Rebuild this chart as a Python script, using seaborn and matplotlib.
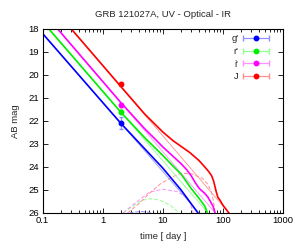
import numpy as np
import pandas as pd
import matplotlib
matplotlib.use("Agg")
import matplotlib.pyplot as plt
import seaborn as sns
from matplotlib import font_manager
from matplotlib.ticker import LogLocator, FixedLocator, FuncFormatter, NullFormatter
from matplotlib.legend_handler import HandlerErrorbar
from matplotlib.container import ErrorbarContainer

# ---------------- data ----------------
bands = ["g'", "r'", "i'", "J"]

# combined model (afterglow + SN), solid lines
t_g_tot = [0.1, 2, 4, 6, 10, 20, 38.5]
m_g_tot = [18.2, 22.1, 22.94, 23.43, 24.05, 24.99, 26.0]
t_r_tot = [0.127, 2, 5, 10, 15, 20, 30, 40, 50, 55.5]
m_r_tot = [18.0, 21.62, 22.73, 23.5, 23.98, 24.3, 24.95, 25.36, 25.7, 26.0]
t_i_tot = [0.178, 2, 5, 8, 10, 15, 20, 25, 30, 35, 41, 50, 56, 62, 69, 74]
m_i_tot = [18.0, 21.2, 22.34, 22.87, 23.13, 23.55, 23.85, 24.12, 24.4, 24.7,
           24.95, 25.15, 25.3, 25.5, 25.72, 26.0]
t_J_tot = [0.30, 2, 5, 10, 15, 20, 28, 40, 50, 58, 65, 70, 74, 78, 83, 90, 100, 126]
m_J_tot = [18.0, 20.5, 21.7, 22.48, 22.87, 23.1, 23.37, 23.72, 24.0, 24.2, 24.38,
           24.6, 24.85, 25.1, 25.33, 25.45, 25.66, 26.0]

# afterglow-only power laws, thin lines
t_g_ag = [0.1, 39.8]
m_g_ag = [18.2, 26.0]
t_r_ag = [0.127, 56.5]
m_r_ag = [18.0, 26.0]
t_i_ag = [0.178, 74.6]
m_i_ag = [18.0, 26.0]
t_J_ag = [0.30, 126]
m_J_ag = [18.0, 26.0]

# supernova components, dashed
t_g_sn = [2.8, 3.5, 4.5, 5.5, 6.5]
m_g_sn = [26.0, 25.96, 25.94, 25.96, 26.0]
t_r_sn = [2.2, 3, 4.5, 6.5, 9, 13, 17, 19]
m_r_sn = [26.0, 25.75, 25.45, 25.38, 25.45, 25.65, 25.9, 26.0]
t_i_sn = [2.2, 3, 4, 6, 10, 17, 25, 29, 32]
m_i_sn = [26.0, 25.7, 25.45, 25.1, 24.97, 25.07, 25.3, 25.6, 26.0]
t_J_sn = [2.6, 4, 6, 9, 14, 20, 30, 46, 56, 64, 70, 74]
m_J_sn = [26.0, 25.6, 25.15, 24.75, 24.45, 24.28, 24.3, 24.5, 24.75, 25.05, 25.5, 26.0]

# observed points
obs_t = [2.0, 2.0, 2.0, 2.0]
obs_m = [22.1, 21.6, 21.3, 20.4]
obs_err = [0.25, 0.1, 0.1, 0.1]

dark = {"g'": "#0000ff", "r'": "#00ee00", "i'": "#ff00ff", "J": "#ff0000"}
light = {"g'": "#9090ff", "r'": "#90ff90", "i'": "#ff90ff", "J": "#ff9090"}

tot = {"g'": (t_g_tot, m_g_tot), "r'": (t_r_tot, m_r_tot),
       "i'": (t_i_tot, m_i_tot), "J": (t_J_tot, m_J_tot)}
ag = {"g'": (t_g_ag, m_g_ag), "r'": (t_r_ag, m_r_ag),
      "i'": (t_i_ag, m_i_ag), "J": (t_J_ag, m_J_ag)}
sn = {"g'": (t_g_sn, m_g_sn), "r'": (t_r_sn, m_r_sn),
      "i'": (t_i_sn, m_i_sn), "J": (t_J_sn, m_J_sn)}

# ---------------- plot ----------------
FS = 6.8
sns.set_style("ticks")
family = ["Liberation Sans", "DejaVu Sans"]
for f in font_manager.findSystemFonts():
    if f.endswith("LiberationSans-Regular.ttf"):
        font_manager.fontManager.addfont(f)
        family = [font_manager.FontProperties(fname=f).get_name(), "DejaVu Sans"]
        break
plt.rcParams["font.family"] = family
plt.rcParams["font.stretch"] = "normal"
plt.rcParams["font.size"] = FS

fig = plt.figure(figsize=(3.0, 2.45), dpi=100)
ax = fig.add_axes([0.142, 0.131, 0.801, 0.751])

for b in bands:
    df = pd.DataFrame({"t": sn[b][0], "m": sn[b][1]})
    sns.lineplot(data=df, x="t", y="m", ax=ax, color=light[b], lw=0.7,
                 linestyle=(0, (4, 2)), sort=False, estimator=None)
for b in bands:
    df = pd.DataFrame({"t": ag[b][0], "m": ag[b][1]})
    sns.lineplot(data=df, x="t", y="m", ax=ax, color=light[b], lw=0.6,
                 sort=False, estimator=None)
for b in bands:
    df = pd.DataFrame({"t": tot[b][0], "m": tot[b][1]})
    sns.lineplot(data=df, x="t", y="m", ax=ax, color=dark[b], lw=1.2,
                 sort=False, estimator=None)

handles = []
for i, b in enumerate(bands):
    ax.errorbar([obs_t[i]], [obs_m[i]], yerr=[obs_err[i]], fmt="o", ms=3.2,
                color=dark[b], ecolor=light[b], elinewidth=0.9, capsize=1.5, zorder=5)
    h = ax.errorbar([np.nan], [np.nan], xerr=[1.0], fmt="o", ms=3.2, color=dark[b],
                    ecolor=light[b], elinewidth=0.9, capsize=2.0, label=b)
    handles.append(h)

ax.set_xscale("log")
ax.set_xlim(0.1, 1000)
ax.set_ylim(26, 18)
ax.set_xticks([0.1, 1, 10, 100, 1000])
ax.xaxis.set_major_formatter(FuncFormatter(lambda v, p: "%g" % v))
ax.xaxis.set_minor_locator(LogLocator(base=10, subs=np.arange(2, 10)))
ax.xaxis.set_minor_formatter(NullFormatter())
ax.yaxis.set_major_locator(FixedLocator(list(range(18, 27))))

ax.tick_params(which="both", direction="in", top=True, right=True,
               labelsize=FS, width=0.6, pad=2.5, colors="black")
ax.tick_params(which="major", length=3.5)
ax.tick_params(which="minor", length=2)
for s in ax.spines.values():
    s.set_linewidth(0.8)
    s.set_color("black")

ax.set_xlabel("time [ day ]", fontsize=FS, labelpad=5)
ax.set_ylabel("AB mag", fontsize=FS, labelpad=6)
ax.set_title("GRB 121027A, UV - Optical - IR", fontsize=FS, pad=8.5)

leg = ax.legend(handles=handles, labels=bands, loc="upper right",
                bbox_to_anchor=(0.961, 0.992), borderaxespad=0.0,
                frameon=False, markerfirst=False, fontsize=FS,
                handlelength=2.9, handletextpad=0.4, labelspacing=0.4,
                handler_map={ErrorbarContainer: HandlerErrorbar(xerr_size=1.4)})

fig.savefig("out.png", dpi=100)
